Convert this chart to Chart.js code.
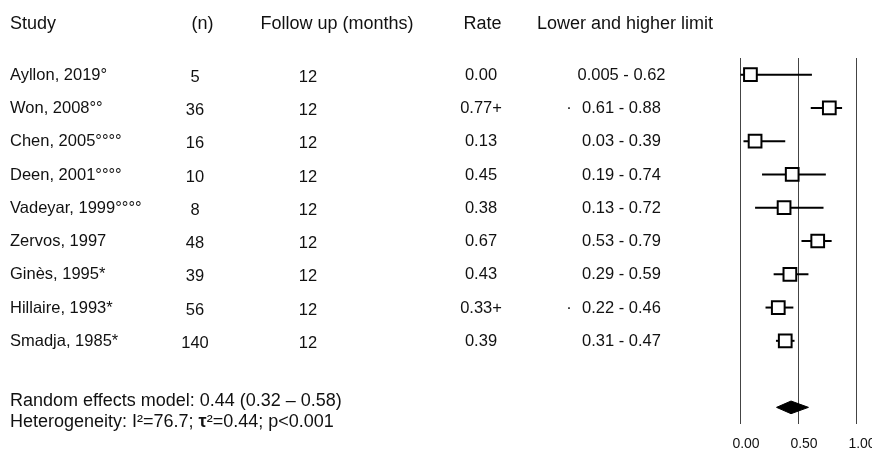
<!DOCTYPE html>
<html>
<head>
<meta charset="utf-8">
<script src="https://cdn.jsdelivr.net/npm/chart.js@4.4.0/dist/chart.umd.min.js"></script>
<style>
  html, body { margin: 0; padding: 0; background: #fff; }
  #wrap { width: 872px; height: 453px; }
</style>
</head>
<body>
<div id="wrap"><canvas id="forest" width="872" height="453"></canvas></div>
<script>
'use strict'
// table columns
let studies = ['Ayllon, 2019°', 'Won, 2008°°', 'Chen, 2005°°°°', 'Deen, 2001°°°°', 'Vadeyar, 1999°°°°',
    'Zervos, 1997', 'Ginès, 1995*', 'Hillaire, 1993*', 'Smadja, 1985*'];
let nPatients = [5, 36, 16, 10, 8, 48, 39, 56, 140];
let followUp = [12, 12, 12, 12, 12, 12, 12, 12, 12];
let rateLabels = ['0.00', '0.77+', '0.13', '0.45', '0.38', '0.67', '0.43', '0.33+', '0.39'];
let limitLabels = ['0.005 - 0.62', '0.61 - 0.88', '0.03 - 0.39', '0.19 - 0.74', '0.13 - 0.72',
    '0.53 - 0.79', '0.29 - 0.59', '0.22 - 0.46', '0.31 - 0.47'];
let limitMarks = ['', '·', '', '', '', '', '', '·', ''];

// plotted values
let pointEst = [0.09, 0.77, 0.13, 0.45, 0.38, 0.67, 0.43, 0.33, 0.39];
let ciLow = [0.005, 0.61, 0.03, 0.19, 0.13, 0.53, 0.29, 0.22, 0.31];
let ciHigh = [0.62, 0.88, 0.39, 0.74, 0.72, 0.79, 0.59, 0.46, 0.47];
let pooled = [0.315, 0.44, 0.59];
let xTicks = [0, 0.5, 1];

const FONT = '"Liberation Sans", Arial, sans-serif';

let datasets = [];
datasets.push({
    type: 'scatter',
    order: 0,
    data: pointEst.map((v, i) => ({ x: v, y: i })),
    pointStyle: 'rect',
    pointRadius: 9,
    borderWidth: 2,
    borderColor: '#000',
    backgroundColor: '#fff'
});
for (let i = 0; i < studies.length; i++) {
    datasets.push({
        type: 'line',
        order: 1,
        data: [{ x: ciLow[i], y: i }, { x: ciHigh[i], y: i }],
        borderColor: '#000',
        borderWidth: 2,
        pointRadius: 0,
        fill: false
    });
}
// summary diamond
let pooledRow = studies.length + 1;
datasets.push({
    type: 'line',
    order: 0,
    data: [
        { x: pooled[0], y: pooledRow },
        { x: pooled[1], y: pooledRow - 0.19 },
        { x: pooled[2], y: pooledRow },
        { x: pooled[1], y: pooledRow + 0.19 },
        { x: pooled[0], y: pooledRow }
    ],
    borderColor: '#000',
    backgroundColor: '#000',
    borderWidth: 1,
    pointRadius: 0,
    fill: 'shape'
});

const tablePlugin = {
    id: 'table',
    afterDraw(chart) {
        const ctx = chart.ctx;
        const y = chart.scales.y;
        ctx.save();
        ctx.fillStyle = '#111';

        // headers
        ctx.font = '18px ' + FONT;
        ctx.textBaseline = 'alphabetic';
        ctx.textAlign = 'left';
        ctx.fillText('Study', 10, 28.5);
        ctx.fillText('Lower and higher limit', 537, 28.5);
        ctx.textAlign = 'center';
        ctx.fillText('(n)', 202.5, 28.5);
        ctx.fillText('Follow up (months)', 337, 28.5);
        ctx.fillText('Rate', 482.5, 28.5);

        // rows
        ctx.font = '16.5px ' + FONT;
        ctx.textBaseline = 'middle';
        for (let i = 0; i < studies.length; i++) {
            let py = y.getPixelForValue(i);
            ctx.textAlign = 'left';
            ctx.fillText(studies[i], 10, py + 0.5);
            ctx.textAlign = 'center';
            ctx.fillText(String(nPatients[i]), 195, py + 2.5);
            ctx.fillText(String(followUp[i]), 308, py + 2.5);
            ctx.fillText(rateLabels[i], 481, py + 0.5);
            ctx.fillText(limitLabels[i], 621.5, py + 0.5);
            if (limitMarks[i]) ctx.fillText(limitMarks[i], 569, py + 0.5);
        }

        // summary lines
        ctx.font = '18px ' + FONT;
        ctx.textAlign = 'left';
        ctx.textBaseline = 'alphabetic';
        ctx.fillText('Random effects model: 0.44 (0.32 – 0.58)', 10, 406);
        let x = 10;
        let parts = [['Heterogeneity: I²=76.7; ', false], ['τ', true], ['²=0.44; p<0.001', false]];
        parts.forEach(p => {
            ctx.font = (p[1] ? 'bold ' : '') + '18px ' + FONT;
            ctx.fillText(p[0], x, 427);
            x += ctx.measureText(p[0]).width;
        });
        ctx.restore();
    }
};

new Chart(document.getElementById('forest'), {
    type: 'scatter',
    data: { datasets: datasets },
    options: {
        responsive: false,
        animation: false,
        events: [],
        layout: { padding: { left: 740, right: 16, top: 58, bottom: 0 } },
        plugins: { legend: { display: false }, tooltip: { enabled: false } },
        scales: {
            x: {
                type: 'linear',
                min: 0,
                max: 1,
                afterBuildTicks: (scale) => { scale.ticks = xTicks.map(v => ({ value: v })); },
                afterFit: (scale) => {
                    scale.height = 29;
                    scale.paddingLeft = 0;
                    scale.paddingRight = 0;
                },
                ticks: {
                    padding: 12,
                    labelOffset: 6,
                    color: '#111',
                    font: { family: FONT, size: 14 },
                    callback: (v) => Number(v).toFixed(2)
                },
                grid: { color: '#444', lineWidth: 1, drawTicks: false },
                border: { display: false }
            },
            y: {
                type: 'linear',
                display: false,
                reverse: true,
                min: -0.5,
                max: 10.5
            }
        }
    },
    plugins: [tablePlugin]
});
</script>
</body>
</html>
